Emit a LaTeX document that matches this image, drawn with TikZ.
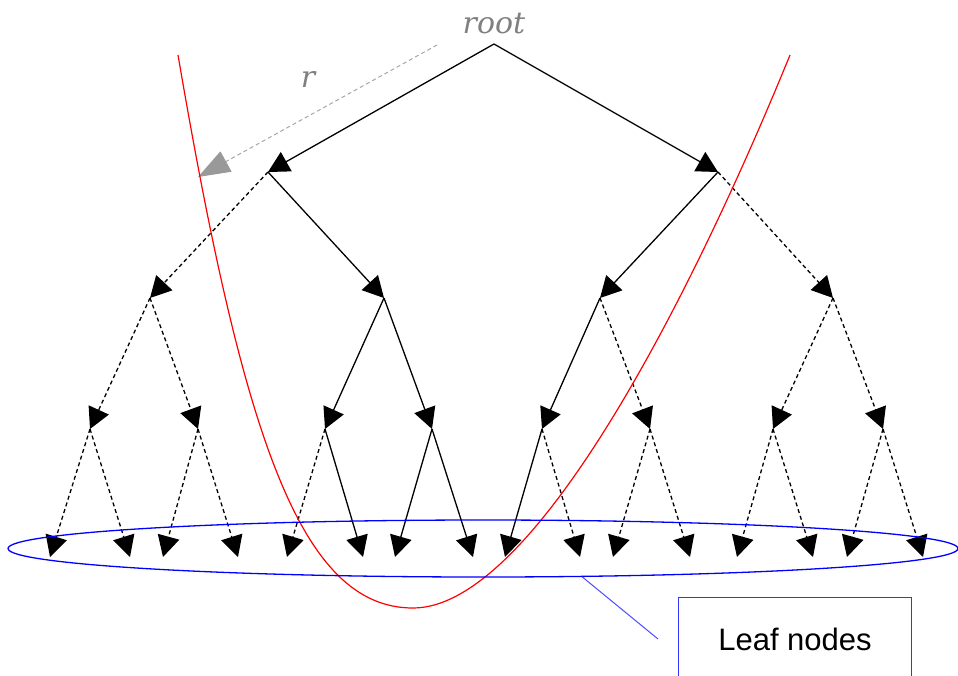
\documentclass[tikz,border=0pt]{standalone}
\usepackage{fontspec}
\setmainfont{Liberation Sans}
\newfontfamily\labelfont{DejaVu Serif}
\usetikzlibrary{arrows.meta,shapes.geometric}
\tikzset{
  treeedge/.style={black, line width=1.3pt, -{Triangle[length=21pt,width=22pt]}},
  hiddenedge/.style={treeedge, dash pattern=on 4pt off 3pt},
  radiusedge/.style={gray!70, line width=1pt, dash pattern=on 4pt off 3pt,
    -{Triangle[length=32pt,width=23pt,color=gray!80]}},
  graylabel/.style={text=gray, font=\labelfont\itshape\fontsize{30}{30}\selectfont, inner sep=0pt, anchor=base},
  leaderline/.style={blue!70, line width=1pt},
}
\begin{document}
\begin{tikzpicture}[x=1pt,y=-1pt]
\useasboundingbox (0,0) rectangle (958,675);
\def\ly{557}
% tree points
\coordinate (Root) at (494,44);
\coordinate (L) at (268,172);
\coordinate (R) at (718,172);
\coordinate (LL) at (150,298);
\coordinate (LR) at (384,298);
\coordinate (RL) at (600,298);
\coordinate (RR) at (833,298);
\coordinate (LLL) at (90,429);
\coordinate (LLR) at (198,429);
\coordinate (LRL) at (325,429);
\coordinate (LRR) at (432,429);
\coordinate (RLL) at (542,429);
\coordinate (RLR) at (650,429);
\coordinate (RRL) at (773,429);
\coordinate (RRR) at (883,429);
\coordinate (A1) at (50,\ly);
\coordinate (A2) at (130,\ly);
\coordinate (B1) at (163,\ly);
\coordinate (B2) at (238,\ly);
\coordinate (C1) at (287,\ly);
\coordinate (C2) at (363,\ly);
\coordinate (D1) at (395,\ly);
\coordinate (D2) at (473,\ly);
\coordinate (E1) at (505,\ly);
\coordinate (E2) at (580,\ly);
\coordinate (F1) at (613,\ly);
\coordinate (F2) at (690,\ly);
\coordinate (G1) at (737,\ly);
\coordinate (G2) at (813,\ly);
\coordinate (H1) at (847,\ly);
\coordinate (H2) at (923,\ly);

% labels
\node[graylabel] (RootLabel) at (494,33) {root};
\node[graylabel] (RLabel) at (308,87) {r};
\coordinate (RadiusStart) at (437,45);
\coordinate (RadiusEnd) at (198,177);
\draw[radiusedge] (RadiusStart) -- (RadiusEnd);% radius

% level 1 and 2
\draw[treeedge] (Root) -- (L);
\draw[treeedge] (Root) -- (R);
\draw[hiddenedge] (L) -- (LL);
\draw[treeedge] (L) -- (LR);
\draw[treeedge] (R) -- (RL);
\draw[hiddenedge] (R) -- (RR);

% level 3
\draw[hiddenedge] (LL) -- (LLL);
\draw[hiddenedge] (LL) -- (LLR);
\draw[treeedge] (LR) -- (LRL);
\draw[treeedge] (LR) -- (LRR);
\draw[treeedge] (RL) -- (RLL);
\draw[hiddenedge] (RL) -- (RLR);
\draw[hiddenedge] (RR) -- (RRL);
\draw[hiddenedge] (RR) -- (RRR);

% leaves
\draw[hiddenedge] (LLL) -- (A1);
\draw[hiddenedge] (LLL) -- (A2);
\draw[hiddenedge] (LLR) -- (B1);
\draw[hiddenedge] (LLR) -- (B2);
\draw[hiddenedge] (LRL) -- (C1);
\draw[treeedge] (LRL) -- (C2);
\draw[treeedge] (LRR) -- (D1);
\draw[treeedge] (LRR) -- (D2);
\draw[treeedge] (RLL) -- (E1);
\draw[hiddenedge] (RLL) -- (E2);
\draw[hiddenedge] (RLR) -- (F1);
\draw[hiddenedge] (RLR) -- (F2);
\draw[hiddenedge] (RRL) -- (G1);
\draw[hiddenedge] (RRL) -- (G2);
\draw[hiddenedge] (RRR) -- (H1);
\draw[hiddenedge] (RRR) -- (H2);

% red curve
\coordinate (CurveL) at (178,55);
\coordinate (CurveMin) at (413,608);
\coordinate (CurveR) at (790,55);
\draw[red, line width=1.2pt] (CurveL) .. controls (243,435) and (300,608) .. (CurveMin)
  .. controls (533,608) and (690,300) .. (CurveR);

% leaf ring and box
\node[ellipse, draw=blue, line width=1.3pt, inner sep=0pt, minimum width=950pt,
  minimum height=57pt] (LeafRing) at (483,548.5) {};
\node[draw=blue!80, line width=1pt, minimum width=233pt, minimum height=84pt,
  anchor=north west, font=\fontsize{31}{31}\selectfont] (LeafBox) at (678,597) {Leaf nodes};
\coordinate (LeaderEnd) at (658,639);
\draw[leaderline] (LeafRing.-16) -- (LeaderEnd);
\end{tikzpicture}
\end{document}
